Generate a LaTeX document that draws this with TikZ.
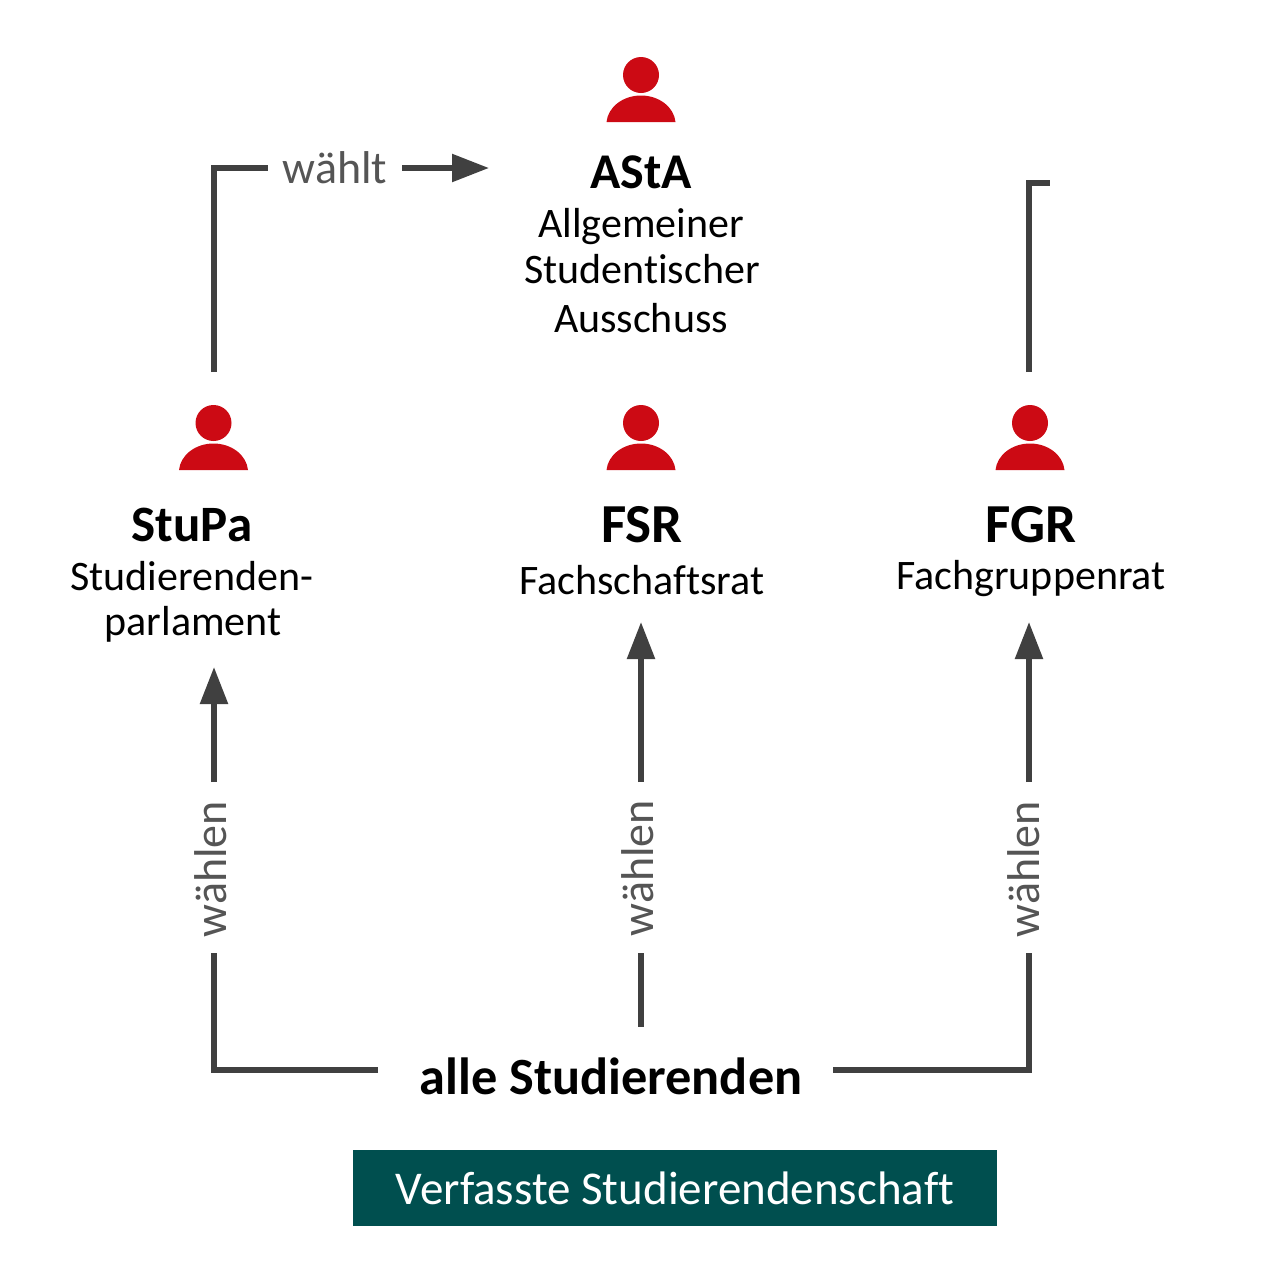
\documentclass[tikz,border=0pt]{standalone}
\usepackage{fontspec}
\setmainfont[Ligatures=NoCommon]{Carlito}
\usetikzlibrary{arrows.meta}
\definecolor{linegray}{HTML}{404040}
\definecolor{labelgray}{HTML}{555555}
\definecolor{redicon}{HTML}{CC0A14}
\definecolor{tealbox}{HTML}{004F4F}
\tikzset{
  x=1pt,y=-1pt,
  conn/.style={draw=linegray,line width=5.5pt},
  arr/.style={conn,-{Triangle[length=37pt,width=27pt]}},
  title/.style={font=\fontsize{50}{50}\selectfont\bfseries,text=black,inner sep=0pt,anchor=center},
  bigtitle/.style={title,font=\fontsize{55}{55}\selectfont\bfseries},
  sub/.style={font=\fontsize{42}{42}\selectfont,text=black,inner sep=0pt,anchor=center},
  verb/.style={font=\fontsize{46}{46}\selectfont,text=labelgray,inner sep=0pt,anchor=center},
  vverb/.style={verb,rotate=90},
  person/.pic={
    \fill[redicon] (0,-47) circle[radius=18];
    \fill[redicon] (-34.5,0) .. controls (-33,-15) and (-18,-26.5) .. (0,-26.5)
       .. controls (18,-26.5) and (33,-15) .. (34.5,0) -- cycle;
  }
}
\begin{document}
\begin{tikzpicture}
\useasboundingbox (0,0) rectangle (1274,1288);
\pic (pa) at (641,122) {person};
\pic (ps) at (213.5,470) {person};
\pic (pf) at (641,470) {person};
\pic (pg) at (1030,470) {person};
\node[title] (asta) at (641,172) {AStA};
\node[sub] (asta1) at (641,227) {Allgemeiner};
\node[sub] (asta2) at (642,269) {Studentischer};
\node[sub] (asta3) at (641,318) {Ausschuss};
\node[title,font=\fontsize{51}{51}\selectfont\bfseries] (stupa) at (192,525) {StuPa};
\node[sub] (stupa1) at (192,576) {Studierenden-};
\node[sub] (stupa2) at (193,624) {parlament};
\node[bigtitle] (fsr) at (642,525) {FSR};
\node[sub] (fsr1) at (642,580) {Fachschaftsrat};
\node[bigtitle] (fgr) at (1031,525) {FGR};
\node[sub] (fgr1) at (1031,579) {Fachgruppenrat};
\node[verb] (waehlt) at (335,168) {wählt};
\node[vverb] (w1) at (211,869) {wählen};
\node[vverb] (w2) at (638,868) {wählen};
\node[vverb] (w3) at (1024,869) {wählen};
\node[title,font=\fontsize{52.3}{52}\selectfont\bfseries] (alle) at (611,1076) {alle Studierenden};
\node[fill=tealbox,text=white,font=\fontsize{47}{47}\selectfont,minimum width=644pt,minimum height=76pt,inner sep=0pt] (vs) at (675,1188) {Verfasste Studierendenschaft};
\coordinate (sU) at (214,372);
\coordinate (sC) at (214,168);
\coordinate (sE) at (268,168);
\coordinate (wS) at (402,168);
\coordinate (wT) at (489,168);
\coordinate (gU) at (1029,372);
\coordinate (gC) at (1029,183);
\coordinate (gE) at (1050,183);
\coordinate (a1s) at (214,782);
\coordinate (a1t) at (214,667);
\coordinate (a2s) at (641,782);
\coordinate (a2t) at (641,622);
\coordinate (a3s) at (1029,782);
\coordinate (a3t) at (1029,622);
\coordinate (bLt) at (214,953);
\coordinate (bLc) at (214,1070);
\coordinate (bLe) at (378,1070);
\coordinate (bMt) at (641,953);
\coordinate (bMe) at (641,1027);
\coordinate (bRt) at (1029,953);
\coordinate (bRc) at (1029,1070);
\coordinate (bRe) at (833,1070);
\draw[conn] (sU) -- (sC) -- (sE);
\draw[arr] (wS) -- (wT);
\draw[conn] (gU) -- (gC) -- (gE);
\draw[arr] (a1s) -- (a1t);
\draw[arr] (a2s) -- (a2t);
\draw[arr] (a3s) -- (a3t);
\draw[conn] (bLe) -- (bLc) -- (bLt);
\draw[conn] (bMt) -- (bMe);
\draw[conn] (bRe) -- (bRc) -- (bRt);
\end{tikzpicture}
\end{document}
